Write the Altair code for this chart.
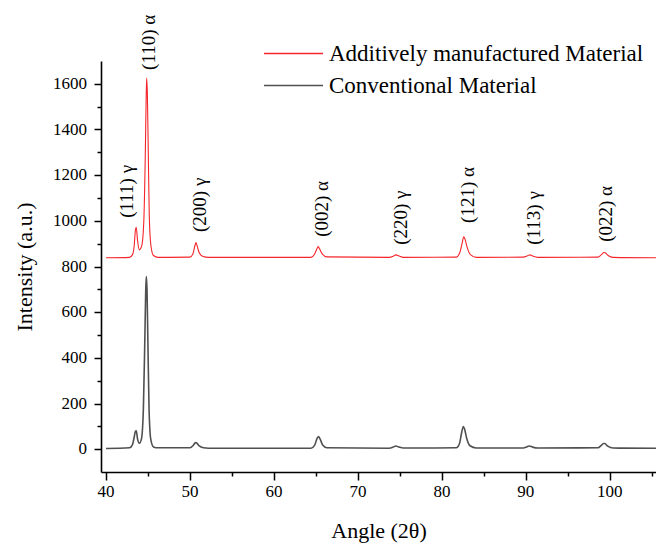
import altair as alt
import pandas as pd

# ---- data ----
series_names = ["Additively manufactured Material", "Conventional Material"]

am_angle = [40.0, 42.8, 43.15, 43.35, 43.5, 43.6, 43.75, 43.97, 44.25, 44.5, 44.68, 44.78, 44.84, 44.92, 45.02, 45.15, 45.35, 45.65, 46.2,
            50.0, 50.35, 50.6, 50.71, 50.85, 51.1, 51.5, 52.2, 64.4, 64.85, 65.15, 65.27, 65.45, 65.75, 66.3,
            73.7, 74.2, 74.52, 74.9, 75.4, 81.7, 82.1, 82.4, 82.6, 82.75, 83.0, 83.4, 84.1,
            89.7, 90.2, 90.48, 90.8, 91.4, 98.6, 99.0, 99.3, 99.45, 99.8, 100.4, 105.5]
am_int = [838, 840, 852, 890, 960, 972, 915, 873, 890, 1000, 1300, 1540, 1625, 1560, 1330, 1020, 890, 848, 840,
          841, 856, 893, 905, 890, 860, 845, 840, 840, 855, 880, 887, 876, 855, 842,
          840, 845, 851, 846, 840, 841, 858, 900, 930, 920, 885, 852, 840,
          841, 847, 851, 846, 840, 841, 852, 861, 860, 848, 840, 838]

conv_angle = [40.0, 42.8, 43.15, 43.35, 43.5, 43.6, 43.75, 43.97, 44.22, 44.45, 44.62, 44.73, 44.8, 44.88, 44.98, 45.12, 45.32, 45.65, 46.2,
              50.0, 50.35, 50.6, 50.7, 50.85, 51.1, 51.6, 52.2, 64.4, 64.85, 65.15, 65.3, 65.5, 65.8, 66.3,
              73.7, 74.2, 74.5, 74.9, 75.4, 81.7, 82.1, 82.35, 82.55, 82.7, 82.95, 83.35, 84.1,
              89.7, 90.1, 90.4, 90.8, 91.4, 98.6, 98.95, 99.25, 99.4, 99.75, 100.4, 105.5]
conv_int = [3, 6, 20, 52, 78, 80, 45, 26, 45, 180, 480, 700, 756, 700, 480, 180, 45, 10, 6,
            6, 15, 27, 29, 25, 14, 6, 4, 4, 18, 48, 55, 44, 18, 6,
            4, 9, 14, 9, 5, 6, 25, 72, 99, 88, 48, 15, 5,
            5, 10, 14, 9, 5, 6, 15, 25, 25, 13, 5, 4]

peak_labels = ["(111) γ", "(110) α", "(200) γ", "(002) α", "(220) γ", "(121) α", "(113) γ", "(022) α"]
label_angle = [42.5, 45.1, 51.2, 65.7, 75.1, 83.1, 91.0, 99.6]
label_int = [1013, 1661, 951, 930, 895, 991, 895, 908]

x_major = [40, 50, 60, 70, 80, 90, 100]
x_minor = [45, 55, 65, 75, 85, 95, 105]
y_major = [0, 200, 400, 600, 800, 1000, 1200, 1400, 1600]
y_minor = [100, 300, 500, 700, 900, 1100, 1300, 1500]

X_DOMAIN = [39.4, 105.5]
Y_DOMAIN = [-100, 1700]

# ---- tables ----
am_df = pd.DataFrame({"angle": am_angle, "intensity": am_int, "series": series_names[0]})
conv_df = pd.DataFrame({"angle": conv_angle, "intensity": conv_int, "series": series_names[1]})
labels_df = pd.DataFrame({"angle": label_angle, "intensity": label_int, "label": peak_labels})
xlab_df = pd.DataFrame({"v": x_major, "t": [str(v) for v in x_major]})
ylab_df = pd.DataFrame({"v": y_major, "t": [str(v) for v in y_major]})

FONT = "Liberation Serif"
COLORS = ["#f5262b", "#505050"]

x_scale = alt.Scale(domain=X_DOMAIN, nice=False, zero=False)
y_scale = alt.Scale(domain=Y_DOMAIN, nice=False, zero=False)
color_scale = alt.Scale(domain=series_names, range=COLORS)

common = dict(grid=False, tickColor="black", tickWidth=1.5, labels=False,
              titleFont=FONT, titleFontSize=22, titleFontWeight="normal", titleColor="black")

x_axis = alt.Axis(values=x_major, tickSize=8, title="Angle (2θ)", domainColor="black",
                  domainWidth=1.6, titlePadding=40, orient="bottom", **common)
y_axis = alt.Axis(values=y_major, tickSize=7, title="Intensity (a.u.)", domainColor="black",
                  domainWidth=1.6, titlePadding=57, orient="left", **common)
x_axis_minor = alt.Axis(values=x_minor, tickSize=4, labels=False, domain=False, title=None,
                        orient="bottom", grid=False, tickColor="black", tickWidth=1.5)
y_axis_minor = alt.Axis(values=y_minor, tickSize=4, labels=False, domain=False, title=None,
                        orient="left", grid=False, tickColor="black", tickWidth=1.5)

legend = alt.Legend(
    orient="none", legendX=181, legendY=-19, title=None,
    symbolType="M-3,0H3", symbolSize=387, symbolStrokeWidth=1.5,
    labelFont=FONT, labelFontSize=23, labelColor="black", labelOffset=24,
    padding=0, rowPadding=8, labelLimit=0,
)

# main axes live on the first line layer only
conv_line = alt.Chart(conv_df).mark_line(clip=True, interpolate="monotone", strokeWidth=1.6).encode(
    x=alt.X("angle:Q", scale=x_scale, axis=x_axis),
    y=alt.Y("intensity:Q", scale=y_scale, axis=y_axis),
    color=alt.Color("series:N", scale=color_scale, legend=legend),
    order=alt.Order("angle:Q"),
)
am_line = alt.Chart(am_df).mark_line(clip=True, interpolate="monotone", strokeWidth=1.1).encode(
    x=alt.X("angle:Q", scale=x_scale, axis=None),
    y=alt.Y("intensity:Q", scale=y_scale, axis=None),
    color=alt.Color("series:N", scale=color_scale, legend=legend),
    order=alt.Order("angle:Q"),
)

# minor ticks live on the annotation layer only
texts = alt.Chart(labels_df).mark_text(
    angle=270, align="left", baseline="middle", font=FONT, fontSize=19, color="black"
).encode(
    x=alt.X("angle:Q", scale=x_scale, axis=x_axis_minor),
    y=alt.Y("intensity:Q", scale=y_scale, axis=y_axis_minor),
    text="label:N",
)

# tick labels drawn as text through the same scales
x_tick_labels = alt.Chart(xlab_df).mark_text(
    align="center", baseline="top", dy=12, font=FONT, fontSize=17, color="black", clip=False
).encode(
    x=alt.X("v:Q", scale=x_scale, axis=None),
    y=alt.datum(Y_DOMAIN[0], scale=y_scale, axis=None),
    text="t:N",
)
y_tick_labels = alt.Chart(ylab_df).mark_text(
    align="right", baseline="middle", dx=-14, font=FONT, fontSize=17, color="black", clip=False
).encode(
    x=alt.datum(X_DOMAIN[0], scale=x_scale, axis=None),
    y=alt.Y("v:Q", scale=y_scale, axis=None),
    text="t:N",
)

chart = alt.layer(conv_line, am_line, texts, x_tick_labels, y_tick_labels).resolve_axis(
    x="independent", y="independent"
).properties(
    width=555, height=411,
    padding={"left": 101, "top": 61, "right": 0, "bottom": 78},
    autosize="none",
    background="white",
).configure_view(stroke=None)

chart.save("out.html", embed_options={"renderer": "svg", "actions": False})
